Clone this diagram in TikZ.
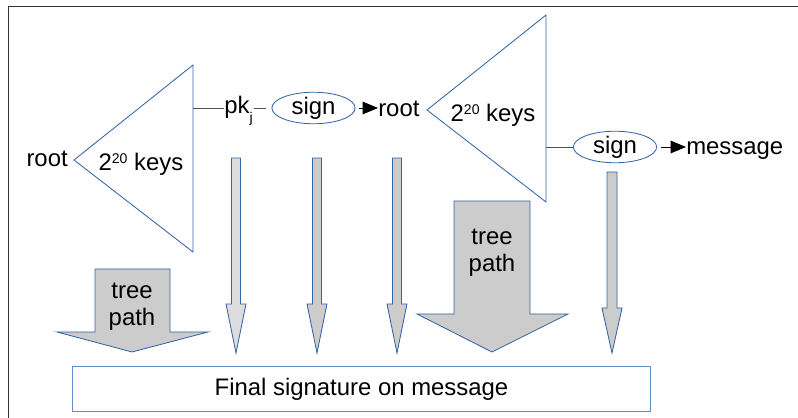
\documentclass[tikz,border=0pt]{standalone}
\usepackage{fontspec}
\setmainfont{Liberation Sans}
\usetikzlibrary{positioning, arrows.meta, shapes.geometric}
\definecolor{OutlineColor}{RGB}{52,101,164}
\definecolor{BoxColor}{RGB}{100,140,200}
\definecolor{ArrowFill}{RGB}{204,204,204}
\definecolor{ArrowLight}{RGB}{221,221,221}
\definecolor{LinkColor}{RGB}{80,80,80}
\definecolor{FrameColor}{RGB}{51,51,51}
\newcommand{\smallsup}[1]{\raisebox{5.5pt}{\fontsize{10}{10}\selectfont #1}}
\newcommand{\smallsub}[1]{\raisebox{-6pt}{\fontsize{10}{10}\selectfont #1}}
\tikzstyle{link} = [line width=0.7pt, LinkColor]
\tikzstyle{push} = [line width=0.7pt, black, -{Triangle[length=11pt, width=9pt]}]
\tikzstyle{tree} = [line width=0.6pt, draw=OutlineColor, fill=white]
\tikzset{
  word/.style={inner sep=0pt},
  sign box/.style={ellipse, draw=OutlineColor, line width=0.6pt, inner sep=0pt, minimum width=2.08cm, minimum height=0.73cm},
  block/.style={draw=OutlineColor, line width=0.6pt, fill=ArrowFill},
  final box/.style={draw=BoxColor, line width=0.7pt, minimum width=14.47cm, minimum height=1.1cm, inner sep=0pt}
}

\begin{document}
\begin{tikzpicture}[x=0.025cm, y=-0.025cm, font=\fontsize{17}{19}\selectfont]
  \useasboundingbox (0,0) rectangle (798,418);
  % Frame
  \draw[FrameColor, line width=0.7pt] (8,418) -- (8,6) -- (798,6);

  % First tree
  \draw[tree] (74,160) -- (193,65) -- (193,252) -- cycle;
  \coordinate (tree1out) at (193,108);
  \node[word, anchor=base east] (root1) at (68,167) {root};
  \node[word, anchor=base] (keys1) at (141,171) {2\smallsup{20} keys};

  % pk_j gets signed
  \node[word, anchor=base west] (pkj) at (224,114) {pk\smallsub{j}};
  \node[sign box] (sign1) at (313.5,108) {sign};
  \node[word, anchor=base west] (root2) at (378,117) {root};
  \draw[link] (tree1out) -- (tree1out -| pkj.west);
  \draw[link, shorten <=0.5pt, shorten >=4pt] (pkj.east |- tree1out) -- (sign1.west |- tree1out);
  \draw[push, shorten <=2.5pt] (sign1.east) -- (sign1.east -| root2.west);

  % Second tree
  \draw[tree] (427,110) -- (546,15) -- (546,202) -- cycle;
  \coordinate (tree2out) at (546,147);
  \node[word, anchor=base] (keys2) at (493,122) {2\smallsup{20} keys};
  \node[sign box] (sign2) at (615,147) {sign};
  \node[word, anchor=base west] (msg) at (686,155) {message};
  \draw[link] (tree2out) -- (sign2.west);
  \draw[push, shorten <=3pt] (sign2.east) -- (sign2.east -| msg.west);

  % Thin arrows down to the signature
  \foreach \x/\tone in {236/ArrowLight, 317/ArrowFill, 397/ArrowFill}
    \draw[block, fill=\tone] ({\x-4.5},158) -- ({\x+4.5},158) -- ({\x+4.5},304) -- ({\x+10},304)
      -- (\x,353) -- ({\x-10},304) -- ({\x-4.5},304) -- cycle;
  \draw[block] (607,172) -- (617,172) -- (617,308) -- (622,308) -- (612,353) -- (602,308) -- (607,308) -- cycle;

  % Tree paths
  \draw[block] (95,269) -- (170,269) -- (170,332) -- (208,332) -- (132,352) -- (57,332) -- (95,332) -- cycle;
  \node[word, align=center] (path1) at (132,307) {tree\\path};
  \draw[block] (454,201) -- (530,201) -- (530,314) -- (568,314) -- (492,352) -- (417,314) -- (454,314) -- cycle;
  \node[word, align=center] (path2) at (492,253) {tree\\path};

  % Final signature
  \node[final box] (final) at (361.5,389) {Final signature on message};
\end{tikzpicture}
\end{document}
